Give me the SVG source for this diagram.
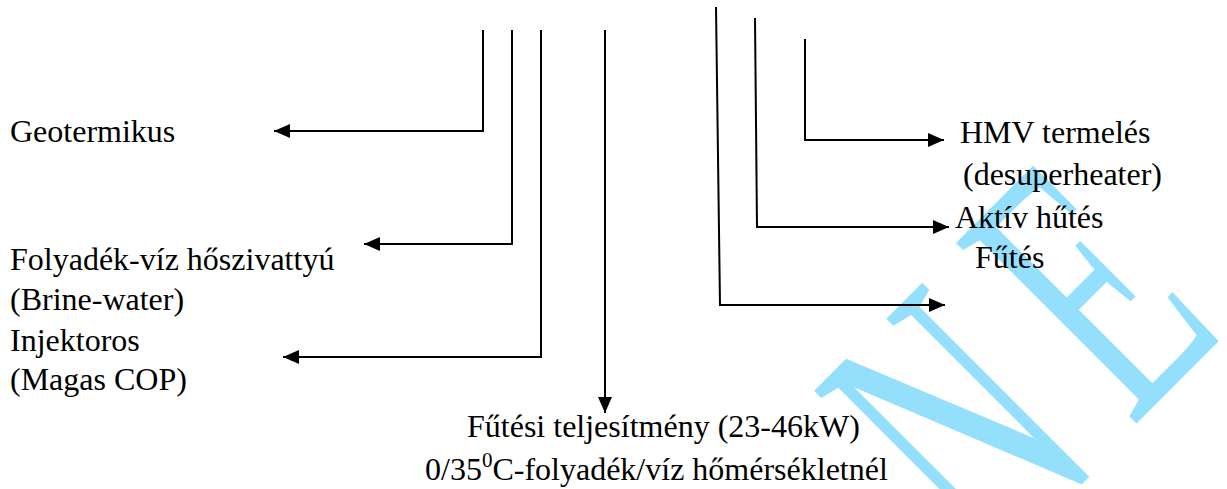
<svg xmlns="http://www.w3.org/2000/svg" width="1227" height="489" viewBox="0 0 1227 489">
<style>
.t{font-family:"Liberation Serif","Times New Roman",serif;font-size:32px;fill:#000}
.c{fill:none;stroke:#000;stroke-width:2}
.wm{font-family:"Liberation Serif","Times New Roman",serif;font-size:390px;fill:#93DFFC}
</style>
<defs>
<marker id="ah" markerUnits="userSpaceOnUse" markerWidth="16" markerHeight="14" refX="16" refY="7" orient="auto">
<path d="M0,0 L16,7 L0,14 z" fill="#000"/>
</marker>
</defs>
<rect width="1227" height="489" fill="#fff"/>
<g id="watermark">
<text class="wm" transform="translate(990,576) rotate(-45) scale(0.585,1)">N</text>
<text class="wm" transform="translate(1132,428) rotate(-45) scale(0.57,1)">E</text>
</g>
<g id="connectors">
<polyline class="c" points="483,30 483,131 274,131" marker-end="url(#ah)"/>
<polyline class="c" points="512,30 512,244 364,244" marker-end="url(#ah)"/>
<polyline class="c" points="541,30 541,357 283,357" marker-end="url(#ah)"/>
<polyline class="c" points="605,30 605,413" marker-end="url(#ah)"/>
<polyline class="c" points="716,7 720,305 945,305" marker-end="url(#ah)"/>
<polyline class="c" points="755,18 757,227 949,227" marker-end="url(#ah)"/>
<polyline class="c" points="805,39 805,140 944,140" marker-end="url(#ah)"/>
</g>
<g id="geotermikus"><text class="t" x="10" y="142">Geotermikus</text></g>
<g id="folyadek"><text class="t" x="10" y="270">Folyadék-víz hőszivattyú</text><text class="t" x="10" y="310">(Brine-water)</text></g>
<g id="injektoros"><text class="t" x="10" y="351">Injektoros</text><text class="t" x="10" y="390">(Magas COP)</text></g>
<g id="futesi"><text class="t" x="467" y="437">Fűtési teljesítmény (23-46kW)</text><text class="t" x="425" y="480">0/35<tspan font-size="21" dy="-13">0</tspan><tspan dy="13">C-folyadék/víz hőmérsékletnél</tspan></text></g>
<g id="hmv"><text class="t" x="960" y="143">HMV termelés</text><text class="t" x="963" y="185">(desuperheater)</text></g>
<g id="aktiv"><text class="t" x="955" y="228">Aktív hűtés</text></g>
<g id="futes"><text class="t" x="975" y="268">Fűtés</text></g>
</svg>
